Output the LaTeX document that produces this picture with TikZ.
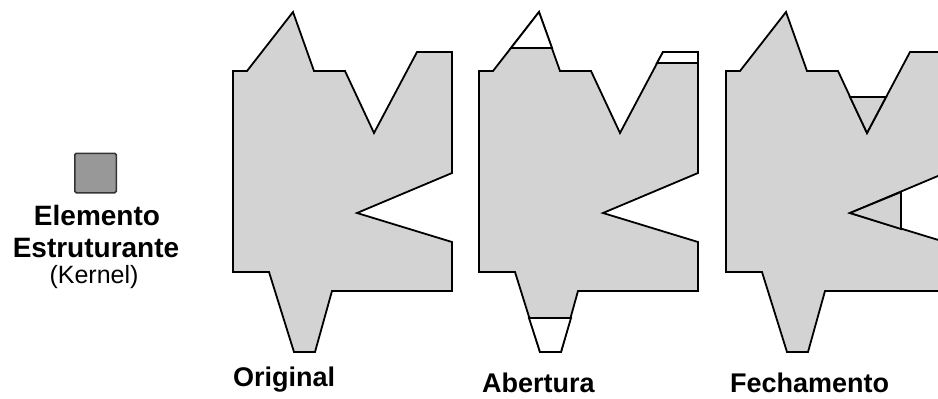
\documentclass[tikz,border=0pt]{standalone}
\usepackage{fontspec}
\setmainfont{Liberation Sans}
\usepackage{xcolor}
\usepackage{tikz}
\usetikzlibrary{positioning}

\definecolor{cinza}{RGB}{211,211,211}
\definecolor{cinzaescuro}{RGB}{152,152,152}

% contorno da forma original (coordenadas em px da figura)
\newcommand\contorno{(233,71) -- (247,71) -- (293,12) -- (314,71) -- (345,71)
  -- (374,133) -- (417,52) -- (452,52) -- (452,173) -- (357,213) -- (452,242)
  -- (452,291) -- (332,291) -- (315,352) -- (294,352) -- (269,272) -- (233,272) -- cycle}

\begin{document}
\begin{tikzpicture}[x=1pt, y=-1pt,
  forma/.style={draw, line width=1.8pt, fill=cinza},
  aberto/.style={forma, fill=white},
  rotulo/.style={font=\bfseries\fontsize{27}{30}\selectfont, anchor=base west, inner sep=0pt},
  legenda/.style={font=\bfseries\fontsize{28}{32}\selectfont, anchor=base, inner sep=0pt},
]
\useasboundingbox (0,0) rectangle (938,399);
\clip (0,0) rectangle (938,399);

% elemento estruturante
\node[draw=black!80, line width=1.5pt, fill=cinzaescuro, rounded corners=1.5pt,
  minimum width=41.5pt, minimum height=39.5pt, inner sep=0pt] (kernel) at (95.5,173) {};
\node[legenda] (elem) at (97,225) {Elemento};
\node[legenda] (estr) at (96,257) {Estruturante};
\node[legenda, font=\fontsize{25}{29}\selectfont] (kern) at (94,283) {(Kernel)};

% original
\draw[forma] \contorno;

% abertura
\begin{scope}[xshift=246pt]
\draw[forma] \contorno;
\draw[aberto] (265,48) -- (293,12) -- (306,48) -- cycle;
\draw[aberto] (411,63) -- (417,52) -- (452,52) -- (452,63) -- cycle;
\draw[aberto] (283,318) -- (325,318) -- (315,352) -- (294,352) -- cycle;
\end{scope}

% fechamento
\begin{scope}[xshift=493pt]
\draw[forma] \contorno;
\draw[forma] (357,97) -- (374,133) -- (393,97) -- cycle;
\draw[forma] (408,192) -- (357,213) -- (408,229) -- cycle;
\end{scope}

\node[rotulo] (orig) at (233,386) {Original};
\node[rotulo] (aber) at (482,392) {Abertura};
\node[rotulo] (fech) at (730,392) {Fechamento};
\end{tikzpicture}
\end{document}
